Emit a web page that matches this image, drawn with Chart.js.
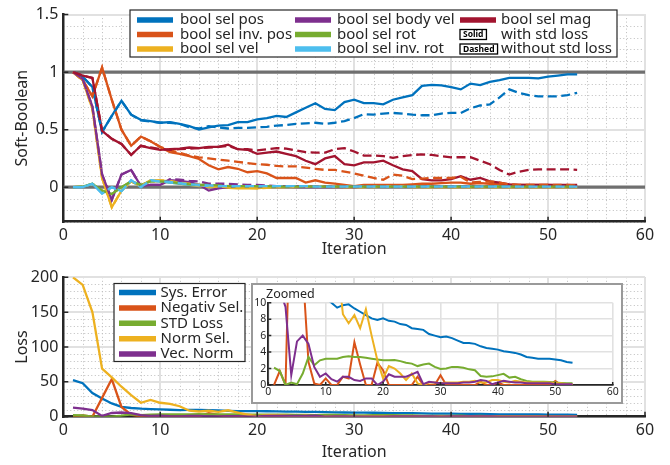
<!DOCTYPE html>
<html>
<head>
<meta charset="utf-8">
<script src="https://cdn.jsdelivr.net/npm/chart.js@4.4.1/dist/chart.umd.min.js"></script>
<style>
  body { margin: 0; background: #fff; width: 670px; height: 465px; position: relative; overflow: hidden; }
  canvas { position: absolute; }
  #insetBox { position: absolute; left: 251px; top: 283px; width: 368px; height: 117px; border: 2px solid #9a9a9a; background: #fff; }
</style>
</head>
<body>
<canvas id="grafico_top" width="670" height="262" style="left:0;top:0"></canvas>
<canvas id="grafico_loss" width="670" height="203" style="left:0;top:262px"></canvas>
<div id="insetBox"><canvas id="grafico_zoom" width="368" height="117" style="left:0;top:0"></canvas></div>
<script>
// valores (iteracoes 1..53)
const iterations = [1,2,3,4,5,6,7,8,9,10,11,12,13,14,15,16,17,18,19,20,21,22,23,24,25,26,27,28,29,30,31,32,33,34,35,36,37,38,39,40,41,42,43,44,45,46,47,48,49,50,51,52,53];

const topLabels = ['bool sel pos', 'bool sel inv. pos', 'bool sel vel', 'bool sel body vel', 'bool sel rot', 'bool sel inv. rot', 'bool sel mag'];
const topColors = ['#0072BD', '#D95319', '#EDB120', '#7E2F8E', '#77AC30', '#4DBEEE', '#A2142F'];

const selPosSolid = [1.0,0.96,0.87,0.48,0.62,0.75,0.63,0.585,0.575,0.56, 0.565,0.55,0.53,0.50,0.52,0.535,0.54,0.565,0.565,0.59, 0.60,0.62,0.61,0.65,0.69,0.73,0.68,0.67,0.74,0.76, 0.73,0.73,0.72,0.76,0.78,0.80,0.88,0.89,0.885,0.87, 0.85,0.90,0.887,0.915,0.93,0.95,0.95,0.95,0.945,0.96, 0.97,0.98,0.98];
const selPosDashed = [1.0,0.96,0.87,0.48,0.62,0.75,0.63,0.58,0.57,0.56, 0.56,0.55,0.52,0.51,0.53,0.52,0.51,0.515,0.515,0.52, 0.525,0.535,0.54,0.55,0.555,0.56,0.55,0.56,0.575,0.60, 0.635,0.63,0.64,0.645,0.64,0.63,0.625,0.625,0.64,0.645, 0.645,0.686,0.71,0.72,0.78,0.85,0.82,0.80,0.79,0.79, 0.79,0.80,0.82];
const selInvPosSolid = [1.0,0.93,0.79,1.04,0.76,0.50,0.36,0.44,0.40,0.35, 0.305,0.29,0.27,0.245,0.19,0.155,0.175,0.16,0.13,0.14, 0.12,0.08,0.08,0.08,0.04,0.06,0.04,0.03,0.02,0.01, 0.02,0.02,0.02,0.02,0.02,0.025,0.03,0.03,0.035,0.04, 0.04,0.03,0.035,0.03,0.025,0.02,0.02,0.02,0.02,0.02, 0.015,0.015,0.015];
const selInvPosDashed = [1.0,0.93,0.79,1.04,0.76,0.50,0.36,0.44,0.40,0.35, 0.32,0.30,0.275,0.26,0.25,0.24,0.23,0.22,0.21,0.20, 0.195,0.185,0.18,0.18,0.17,0.16,0.15,0.15,0.135,0.12, 0.10,0.08,0.065,0.11,0.10,0.07,0.075,0.08,0.08,0.08, 0.09,0.04,0.045,0.05,0.04,0.025,0.02,0.02,0.02,0.02, 0.02,0.02,0.015];
const selVelSolid = [1.0,0.93,0.68,0.08,-0.175,-0.03,0.05,0.01,0.06,0.06, 0.05,0.03,0.02,0.01,0.0,0.0,-0.005,-0.01,-0.01,-0.01, 0.0,0.0,0.0,0.005,0.005,0.005,0.005,0.0,0.0,0.0, 0.0,0.005,0.005,0.005,0.005,0.0,0.0,0.0,0.0,0.0, 0.0,0.0,0.0,0.0,0.0,0.0,0.0,0.0,0.0,0.0, 0.0,0.0,0.0];
const selVelDashed = [1.0,0.93,0.68,0.08,-0.175,-0.03,0.05,0.01,0.06,0.06, 0.055,0.04,0.03,0.02,0.01,0.005,0.0,-0.005,-0.005,-0.01, -0.005,0.0,0.0,0.0,0.005,0.005,0.005,0.005,0.0,0.0, 0.0,0.0,0.005,0.005,0.005,0.005,0.0,0.0,0.0,0.0, 0.0,0.0,0.0,0.0,0.0,0.0,0.0,0.0,0.0,0.0, 0.0,0.0,0.0];
const selBodyVelSolid = [1.0,0.94,0.70,0.11,-0.11,0.11,0.15,0.01,0.02,0.02, 0.06,0.055,0.045,0.02,-0.03,-0.01,0.0,0.01,0.01,0.0, 0.005,0.005,0.005,0.0,0.0,0.0,0.0,0.0,0.0,0.0, 0.005,0.005,0.005,0.005,0.005,0.005,0.005,0.005,0.005,0.005, 0.005,0.005,0.005,0.005,0.005,0.005,0.005,0.005,0.005,0.005, 0.005,0.005,0.005];
const selBodyVelDashed = [1.0,0.94,0.70,0.11,-0.11,0.11,0.15,0.01,0.02,0.02, 0.07,0.065,0.055,0.05,0.03,0.03,0.03,0.025,0.02,0.02, 0.015,0.01,0.01,0.01,0.005,0.005,0.005,0.005,0.005,0.005, 0.005,0.005,0.005,0.005,0.005,0.005,0.005,0.005,0.005,0.005, 0.005,0.005,0.005,0.005,0.005,0.005,0.005,0.005,0.005,0.005, 0.005,0.005,0.005];
const selRotSolid = [0.0,0.005,0.03,-0.03,-0.06,0.0,0.05,0.02,0.05,0.05, 0.04,0.03,0.02,0.02,0.015,0.01,0.01,0.01,0.01,0.01, 0.005,0.005,0.005,0.005,0.005,0.005,0.005,0.005,0.005,0.005, 0.005,0.005,0.005,0.005,0.005,0.005,0.005,0.005,0.005,0.005, 0.005,0.005,0.005,0.005,0.005,0.005,0.005,0.005,0.005,0.005, 0.005,0.005,0.005];
const selRotDashed = [0.0,0.005,0.03,-0.03,-0.06,0.0,0.05,0.02,0.05,0.05, 0.045,0.035,0.025,0.02,0.02,0.015,0.01,0.01,0.01,0.01, 0.01,0.005,0.005,0.005,0.005,0.005,0.005,0.005,0.005,0.005, 0.005,0.005,0.005,0.005,0.005,0.005,0.005,0.005,0.005,0.005, 0.005,0.005,0.005,0.005,0.005,0.005,0.005,0.005,0.005,0.005, 0.005,0.005,0.005];
const selInvRotSolid = [0.0,0.0,0.03,-0.055,0.0,-0.035,0.06,0.0,0.06,0.05, 0.04,0.03,0.02,0.015,0.01,0.01,0.01,0.01,0.01,0.01, 0.01,0.01,0.01,0.01,0.005,0.005,0.005,0.005,0.005,0.005, 0.005,0.005,0.005,0.005,0.005,0.005,0.005,0.005,0.005,0.005, 0.005,0.005,0.005,0.005,0.005,0.005,0.005,0.005,0.005,0.005, 0.005,0.005,0.005];
const selInvRotDashed = [0.0,0.0,0.03,-0.055,0.0,-0.035,0.06,0.0,0.06,0.05, 0.045,0.035,0.025,0.02,0.015,0.01,0.01,0.01,0.01,0.01, 0.01,0.01,0.01,0.01,0.01,0.005,0.005,0.005,0.005,0.005, 0.005,0.005,0.005,0.005,0.005,0.005,0.005,0.005,0.005,0.005, 0.005,0.005,0.005,0.005,0.005,0.005,0.005,0.005,0.005,0.005, 0.005,0.005,0.005];
const selMagSolid = [1.0,0.97,0.95,0.49,0.42,0.375,0.28,0.36,0.34,0.325, 0.33,0.335,0.345,0.34,0.35,0.35,0.37,0.33,0.325,0.29, 0.30,0.31,0.29,0.27,0.23,0.20,0.25,0.27,0.20,0.19, 0.215,0.215,0.23,0.19,0.155,0.14,0.07,0.06,0.06,0.07, 0.096,0.065,0.08,0.05,0.04,0.025,0.02,0.02,0.02,0.02, 0.02,0.02,0.02];
const selMagDashed = [1.0,0.97,0.95,0.49,0.42,0.375,0.28,0.36,0.345,0.33, 0.325,0.33,0.335,0.34,0.345,0.35,0.36,0.33,0.33,0.32, 0.33,0.34,0.335,0.32,0.305,0.30,0.30,0.33,0.34,0.31, 0.275,0.275,0.27,0.255,0.27,0.28,0.285,0.28,0.27,0.26, 0.26,0.26,0.23,0.20,0.15,0.11,0.135,0.15,0.155,0.155, 0.155,0.155,0.15];

const topSolid = [selPosSolid, selInvPosSolid, selVelSolid, selBodyVelSolid, selRotSolid, selInvRotSolid, selMagSolid];
const topDashed = [selPosDashed, selInvPosDashed, selVelDashed, selBodyVelDashed, selRotDashed, selInvRotDashed, selMagDashed];
const refValues = [0, 1];
const topXTicks = [0, 10, 20, 30, 40, 50, 60];
const topYTicks = [0, 0.5, 1, 1.5];

const lossLabels = ['Sys. Error', 'Negativ Sel.', 'STD Loss', 'Norm Sel.', 'Vec. Norm'];
const lossColors = ['#0072BD', '#D95319', '#77AC30', '#EDB120', '#7E2F8E'];
const sysError = [52.5,48,34,26,19,14,12.5,11.5,11,10.5, 10,9.4,9.7,9.8,9.3,8.9,8.5,8.1,7.9,8.1, 7.8,7.7,7.4,7.3,6.9,6.8,6.7,6.2,6.0,5.8, 5.9,5.7,5.4,5.1,5.1,5.0,4.7,4.5,4.4,4.3, 4.1,4.0,3.9,3.7,3.4,3.3,3.2,3.2,3.2,3.1, 3.0,2.8,2.7];
const negativSel = [0,1.7,0,27,54,14,2.8,0.2,0,0.8, 0,0,1.0,0.8,5.2,2.5,0,0,2.7,1.8, 0,0,0,0,0,1.0,0,0,0,1.2, 0,0,0,0,0,0,0.4,0,0,0.3, 0,0,0,0,0,0,0,0,0,0.5, 0,0,0];
const stdLoss = [2.1,1.7,0,0.3,0.1,1.4,3.4,2.4,3.0,3.2, 3.2,3.2,3.4,3.5,3.4,3.4,3.3,3.2,3.1,3.0, 3.0,3.05,2.9,2.7,2.6,2.3,2.5,2.6,2.2,1.95, 2.0,2.2,2.2,2.1,1.9,1.8,1.1,1.0,1.05,1.2, 1.35,0.9,1.0,0.7,0.5,0.4,0.4,0.4,0.35,0.3, 0.25,0.2,0.2];
const normSel = [200,189,150,69,56.5,43,31,20,24,20, 18.5,15,8.6,7.5,8.5,6.9,9.2,6.0,3.0,0.8, 2.3,2.0,1.4,0.6,1.4,0.2,0.0,0.3,0.3,0.2, 0.3,0.3,0.3,0.4,0.4,0.5,0.3,0.3,0.6,0.6, 0.4,0.3,0.5,0.4,0.3,0.3,0.3,0.3,0.3,0.2, 0.2,0.1,0.1];
const vecNorm = [13,11.5,9.5,1.2,5.3,6.0,5.0,2.2,1.0,1.4, 0.7,0.4,1.0,1.0,0.6,0.5,0.8,0.8,0.0,0.4, 1.3,1.0,1.0,1.0,1.3,1.6,0.1,0.4,0.3,0.2, 0.2,0.2,0.2,0.3,0.3,0.4,0.6,0.5,0.1,0.3, 0.5,0.4,0.3,0.3,0.2,0.2,0.2,0.2,0.2,0.1, 0.1,0.1,0.1];
const lossSeries = [sysError, negativSel, stdLoss, normSel, vecNorm];
const lossYTicks = [0, 50, 100, 150, 200];
const zoomYTicks = [0, 2, 4, 6, 8, 10];

const FONT = "'Noto Sans', sans-serif";
const TXT = '#262626';
Chart.defaults.font.family = FONT;
Chart.defaults.color = TXT;

function serie(vals, color, dashed, order, width) {
  return {
    data: vals.map((v, i) => ({ x: iterations[i], y: v })),
    borderColor: color,
    borderWidth: width || 2.3,
    borderDash: dashed ? [9, 4.5] : [],
    pointRadius: 0,
    tension: 0,
    order: order
  };
}

// grade secundaria pontilhada
function minorGrid(xStep, yStep) {
  return {
    id: 'minorGrid',
    beforeDraw(chart) {
      const { ctx, chartArea: a, scales: { x, y } } = chart;
      ctx.save();
      ctx.strokeStyle = '#bdbdbd';
      ctx.lineWidth = 1;
      ctx.setLineDash([1, 2.5]);
      ctx.beginPath();
      for (let k = Math.ceil(x.min / xStep - 1e-9); k * xStep <= x.max + 1e-9; k++) {
        const px = Math.round(x.getPixelForValue(k * xStep)) + 0.5;
        ctx.moveTo(px, a.top); ctx.lineTo(px, a.bottom);
      }
      for (let k = Math.ceil(y.min / yStep - 1e-9); k * yStep <= y.max + 1e-9; k++) {
        const py = Math.round(y.getPixelForValue(k * yStep)) + 0.5;
        ctx.moveTo(a.left, py); ctx.lineTo(a.right, py);
      }
      ctx.stroke();
      ctx.restore();
    }
  };
}

// ticks para dentro, estilo matlab
function innerTicks(len) {
  return {
    id: 'innerTicks',
    afterDatasetsDraw(chart) {
      const { ctx, chartArea: a, scales: { x, y } } = chart;
      ctx.save();
      ctx.strokeStyle = TXT;
      ctx.lineWidth = 1.5;
      ctx.beginPath();
      x.ticks.forEach(t => { const px = x.getPixelForValue(t.value); ctx.moveTo(px, a.bottom); ctx.lineTo(px, a.bottom - len); });
      y.ticks.forEach(t => { const py = y.getPixelForValue(t.value); ctx.moveTo(a.left, py); ctx.lineTo(a.left + len, py); });
      ctx.stroke();
      ctx.restore();
    }
  };
}

function legendBox(box, items) {
  return {
    id: 'legendBox',
    afterDraw(chart) {
      const ctx = chart.ctx;
      ctx.save();
      ctx.fillStyle = '#fff';
      ctx.fillRect(box.x, box.y, box.w, box.h);
      ctx.strokeStyle = '#262626';
      ctx.lineWidth = 1.2;
      ctx.strokeRect(box.x, box.y, box.w, box.h);
      ctx.textBaseline = 'middle';
      items.forEach(it => {
        if (it.color) {
          ctx.strokeStyle = it.color;
          ctx.lineWidth = 5.5;
          ctx.beginPath();
          ctx.moveTo(it.sx, it.y); ctx.lineTo(it.sx + it.sw, it.y);
          ctx.stroke();
        } else {
          ctx.font = 'bold 8.5px ' + FONT;
          const w = ctx.measureText(it.tag).width + 6;
          ctx.fillStyle = '#fff';
          ctx.fillRect(it.sx, it.y - 5, w, 10);
          ctx.strokeStyle = '#000';
          ctx.lineWidth = 1.3;
          ctx.strokeRect(it.sx, it.y - 5, w, 10);
          ctx.fillStyle = '#000';
          ctx.textAlign = 'center';
          ctx.fillText(it.tag, it.sx + w / 2, it.y + 0.5);
          ctx.textAlign = 'left';
        }
        ctx.font = '15px ' + FONT;
        ctx.fillStyle = TXT;
        ctx.fillText(it.label, it.tx, it.y);
      });
      ctx.restore();
    }
  };
}

function axes(opts) {
  return {
    x: {
      type: 'linear', min: 0, max: 60,
      afterBuildTicks: s => { s.ticks = topXTicks.map(v => ({ value: v })); },
      afterFit: s => { s.height = opts.xh; },
      grid: { color: '#e1e1e1', lineWidth: opts.gw, drawTicks: false },
      border: { color: TXT, width: opts.bw },
      ticks: { color: TXT, font: { size: opts.fs }, padding: opts.xpad, maxRotation: 0 },
      title: opts.xtitle ? { display: true, text: 'Iteration', color: TXT, font: { size: 16 }, padding: { top: 0, bottom: 3 } } : { display: false }
    },
    y: {
      type: 'linear', min: opts.ymin, max: opts.ymax,
      afterBuildTicks: s => { s.ticks = opts.yticks.map(v => ({ value: v })); },
      afterFit: s => { s.width = opts.yw; },
      grid: { color: '#e1e1e1', lineWidth: opts.gw, drawTicks: false },
      border: { color: TXT, width: opts.bw },
      ticks: { color: TXT, font: { size: opts.fs }, padding: opts.ypad, callback: v => String(v) },
      title: opts.ytitle ? { display: true, text: opts.ytitle, color: TXT, font: { size: 16 }, padding: { top: 13, bottom: 0 } } : { display: false }
    }
  };
}

// grafico de cima
const topSets = [];
refValues.forEach(v => topSets.push({
  data: [{ x: 0, y: v }, { x: 60, y: v }], borderColor: '#6f6f6f', borderWidth: 3.2, pointRadius: 0, order: 100
}));
topSolid.forEach((s, i) => topSets.push(serie(s, topColors[i], false, 50 - i)));
topDashed.forEach((s, i) => topSets.push(serie(s, topColors[i], true, 40 - i)));

const topItems = topLabels.map((l, i) => ({
  label: l, color: topColors[i],
  sx: [137, 295, 460][Math.floor(i / 3)], sw: 36,
  tx: [180, 337, 501][Math.floor(i / 3)],
  y: [20, 34.5, 49][i % 3]
}));
topItems.push({ label: 'with std loss', tag: 'Solid', sx: 460, tx: 501, y: 34.5 });
topItems.push({ label: 'without std loss', tag: 'Dashed', sx: 460, tx: 501, y: 49 });

var grafico_top = new Chart(document.getElementById('grafico_top'), {
  type: 'line',
  data: { datasets: topSets },
  options: {
    responsive: false, animation: false, events: [],
    layout: { padding: { top: 9, right: 25, left: 0, bottom: 0 } },
    plugins: { legend: { display: false }, tooltip: { enabled: false } },
    scales: axes({ xh: 40.3, yw: 63.3, ymin: -0.3, ymax: 1.5, yticks: topYTicks, gw: 2, bw: 2.5, fs: 16, xpad: 4, ypad: 5, xtitle: true, ytitle: 'Soft-Boolean' })
  },
  plugins: [minorGrid(2, 0.1), innerTicks(5), legendBox({ x: 130, y: 10, w: 487, h: 47 }, topItems)]
});

// grafico de baixo (loss)
const lossSets = lossSeries.map((s, i) => serie(s, lossColors[i], false, 50 - i));
const lossItems = lossLabels.map((l, i) => ({
  label: l, color: lossColors[i], sx: 119, sw: 37, tx: 160.5, y: 30.5 + i * 15.4
}));

var grafico_loss = new Chart(document.getElementById('grafico_loss'), {
  type: 'line',
  data: { datasets: lossSets },
  options: {
    responsive: false, animation: false, events: [],
    layout: { padding: { top: 15.3, right: 25, left: 0, bottom: 0 } },
    plugins: { legend: { display: false }, tooltip: { enabled: false } },
    scales: axes({ xh: 48.3, yw: 63.3, ymin: 0, ymax: 200, yticks: lossYTicks, gw: 2, bw: 2.5, fs: 16, xpad: 4, ypad: 5, xtitle: true, ytitle: 'Loss' })
  },
  plugins: [minorGrid(2, 10), innerTicks(5), legendBox({ x: 114, y: 21.5, w: 131, h: 78 }, lossItems)]
});

// detalhe ampliado
const zoomSets = lossSeries.map((s, i) => serie(s, lossColors[i], false, 50 - i, 2));
const zoomTitle = {
  id: 'zoomTitle',
  afterDraw(chart) {
    const ctx = chart.ctx;
    ctx.save();
    ctx.font = '12.5px ' + FONT;
    ctx.fillStyle = TXT;
    ctx.textBaseline = 'middle';
    ctx.fillText('Zoomed', 13, 9);
    ctx.restore();
  }
};

var grafico_zoom = new Chart(document.getElementById('grafico_zoom'), {
  type: 'line',
  data: { datasets: zoomSets },
  options: {
    responsive: false, animation: false, events: [],
    layout: { padding: { top: 17.7, right: 8.3, left: 0, bottom: 0 } },
    plugins: { legend: { display: false }, tooltip: { enabled: false } },
    scales: axes({ xh: 17, yw: 15.3, ymin: 0, ymax: 10, yticks: zoomYTicks, gw: 1.6, bw: 1.8, fs: 10.5, xpad: 1, ypad: 2, xtitle: false, ytitle: null })
  },
  plugins: [innerTicks(3), zoomTitle]
});
</script>
</body>
</html>
